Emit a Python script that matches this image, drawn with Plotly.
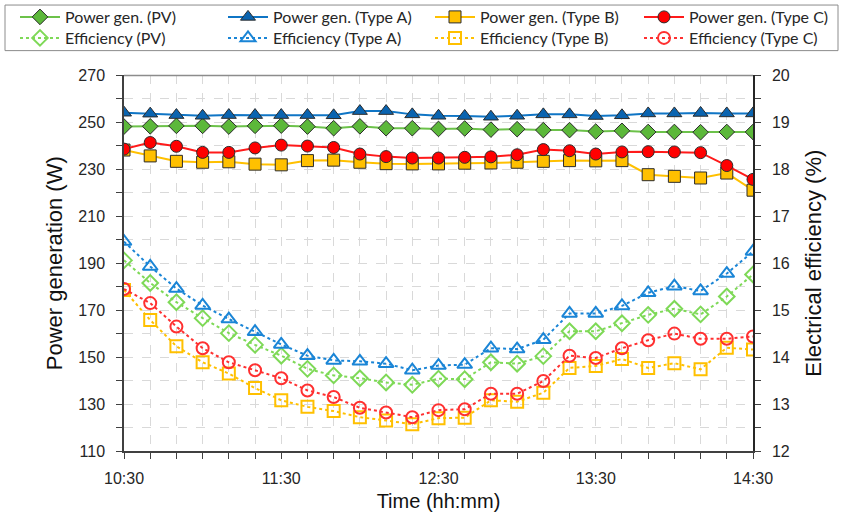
import plotly.graph_objects as go
import pandas as pd

times = ["10:30", "10:40", "10:50", "11:00", "11:10", "11:20", "11:30", "11:40", "11:50",
         "12:00", "12:10", "12:20", "12:30", "12:40", "12:50", "13:00", "13:10", "13:20",
         "13:30", "13:40", "13:50", "14:00", "14:10", "14:20", "14:30"]

power_pv = [248.2, 248.3, 248.5, 248.5, 248.2, 248.5, 248.6, 248.2, 247.5, 248.3, 247.5, 247.5, 247.2,
            247.4, 246.9, 247.1, 246.7, 246.7, 246.1, 246.4, 245.9, 245.9, 245.8, 245.9, 245.9]
power_a = [254.1, 253.7, 253.1, 252.8, 253.1, 253.1, 253.1, 253.1, 253.0, 254.8, 254.8, 253.4, 252.8,
           252.7, 252.4, 252.8, 253.4, 253.4, 252.7, 253.0, 253.8, 253.8, 254.0, 253.8, 253.8]
power_b = [238.2, 235.7, 233.4, 233.0, 233.2, 232.2, 231.9, 233.7, 233.9, 233.0, 232.4, 232.3, 232.3,
           232.6, 232.7, 233.0, 233.4, 233.7, 233.6, 233.7, 227.7, 227.0, 226.3, 228.4, 221.1]
power_c = [238.6, 241.4, 239.8, 237.2, 237.2, 239.1, 240.3, 239.9, 239.3, 236.5, 235.4, 234.8, 234.8,
           235.1, 235.3, 236.2, 238.4, 237.9, 236.5, 237.4, 237.5, 237.4, 237.1, 231.6, 225.7]

eff_pv = [16.06, 15.58, 15.17, 14.83, 14.51, 14.26, 14.03, 13.75, 13.61, 13.55, 13.46, 13.41, 13.54,
          13.53, 13.89, 13.86, 14.02, 14.55, 14.55, 14.72, 14.90, 15.03, 14.91, 15.29, 15.76]
eff_a = [16.46, 15.93, 15.46, 15.10, 14.81, 14.54, 14.27, 14.03, 13.93, 13.91, 13.86, 13.72, 13.82,
         13.84, 14.19, 14.17, 14.37, 14.93, 14.93, 15.09, 15.37, 15.51, 15.41, 15.78, 16.25]
eff_b = [15.43, 14.79, 14.23, 13.89, 13.65, 13.34, 13.08, 12.94, 12.85, 12.72, 12.65, 12.57, 12.70,
         12.71, 13.08, 13.05, 13.24, 13.77, 13.81, 13.96, 13.77, 13.87, 13.74, 14.20, 14.16]
eff_c = [15.45, 15.15, 14.65, 14.19, 13.89, 13.72, 13.55, 13.29, 13.15, 12.92, 12.82, 12.72, 12.87,
         12.89, 13.22, 13.22, 13.49, 14.03, 13.98, 14.19, 14.36, 14.50, 14.39, 14.39, 14.44]

x = pd.to_datetime(["2024-01-01 " + t for t in times])

series = [
    ("PV", power_pv, eff_pv, "#6cc24a", "#5cb83a", "#7ed957", "diamond"),
    ("Type A", power_a, eff_a, "#0f75c5", "#0a64b0", "#1a85d6", "triangle-up"),
    ("Type B", power_b, eff_b, "#ffc000", "#ffc000", "#ffc000", "square"),
    ("Type C", power_c, eff_c, "#ff1a1a", "#ff0000", "#ff3030", "circle"),
]

W, H = 843, 521
ML, MR, MT, MB = 124, 90, 74, 68
PW, PH = W - ML - MR, H - MT - MB


def px_to_paper_x(px):
    return (px - ML) / PW


def px_to_paper_y(py):
    return (H - MB - py) / PH


col_x = [15, 223, 430, 639]      # legend column left edges (px)
row_y = [17, 38]                 # legend row centres (px)

legend_font = dict(family="Lato", size=16, color="#262626")
legends = {}
fig = go.Figure()
for i, (name, pw, ef, lcol, mcol, ecol, sym) in enumerate(series):
    msize = 13 if sym == "triangle-up" else 12
    lid1 = "legend" if i == 0 else f"legend{i + 1}"
    lid2 = f"legend{i + 5}"
    fig.add_trace(go.Scatter(
        x=x, y=pw, name=f"Power gen. ({name})", mode="lines+markers",
        line=dict(color=lcol, width=2),
        marker=dict(symbol=sym, size=msize, color=mcol, line=dict(color="#2b2b2b", width=1)),
        yaxis="y", legend=lid1))
    fig.add_trace(go.Scatter(
        x=x, y=ef, name=f"Efficiency ({name})", mode="lines+markers",
        line=dict(color=ecol, width=2, dash="dot"),
        marker=dict(symbol=sym + "-open", size=msize, color=ecol, line=dict(width=2)),
        yaxis="y2", legend=lid2))
    for lid, ry in ((lid1, row_y[0]), (lid2, row_y[1])):
        legends[lid] = dict(xref="paper", yref="container", orientation="h",
                            x=px_to_paper_x(col_x[i]), y=1 - ry / H,
                            xanchor="left", yanchor="middle",
                            font=legend_font, bgcolor="rgba(0,0,0,0)", borderwidth=0,
                            itemwidth=40)

tickfont = dict(family="Liberation Sans, Arial", size=16, color="#262626")
grid = dict(showgrid=True, gridcolor="#d9d9d9", griddash="dash", gridwidth=1)
title_font = dict(family="Liberation Sans, Arial", size=22, color="#111")

fig.update_layout(
    width=W, height=H,
    margin=dict(l=ML, r=MR, t=MT, b=MB),
    paper_bgcolor="white", plot_bgcolor="white",
    showlegend=True,
    **legends,
    xaxis=dict(
        type="date", range=[x[0], x[-1]],
        tick0=x[0], dtick=3600000, tickformat="%H:%M",
        ticks="outside", ticklen=6, tickcolor="#404040",
        showline=True, linecolor="#404040", linewidth=1.5,
        tickfont=tickfont, ticklabelstandoff=6,
        **grid,
        minor=dict(dtick=600000, tick0=x[0], ticks="outside", ticklen=6, tickcolor="#404040",
                   showgrid=True, gridcolor="#d9d9d9", griddash="dash"),
        title=dict(text="Time (hh:mm)", font=dict(family="Liberation Sans, Arial", size=20, color="#111"),
                   standoff=8),
    ),
    yaxis=dict(
        range=[110, 270], tick0=110, dtick=20,
        ticks="outside", ticklen=6, tickcolor="#404040",
        showline=True, linecolor="#404040", linewidth=1.5,
        tickfont=tickfont, ticklabelstandoff=8,
        **grid,
        minor=dict(dtick=10, tick0=110, ticks="outside", ticklen=6, tickcolor="#404040",
                   showgrid=True, gridcolor="#d9d9d9", griddash="dash"),
        title=dict(text="Power generation (W)", font=title_font, standoff=10),
        zeroline=False,
    ),
    yaxis2=dict(
        overlaying="y", side="right", range=[12, 20], dtick=1, tick0=12,
        ticks="outside", ticklen=6, tickcolor="#404040",
        showline=True, linecolor="#262626", linewidth=1.5,
        tickfont=tickfont, ticklabelstandoff=8, showgrid=False,
        minor=dict(dtick=0.5, tick0=12, ticks="outside", ticklen=6, tickcolor="#404040"),
        title=dict(text="Electrical efficiency (%)", font=title_font, standoff=17),
        zeroline=False,
    ),
    shapes=[
        dict(type="line", xref="paper", yref="paper", x0=0, x1=1, y0=1, y1=1,
             line=dict(color="#8c8c8c", width=1.5), layer="above"),
        # legend frame
        dict(type="rect", xref="paper", yref="paper",
             x0=px_to_paper_x(5), x1=px_to_paper_x(838),
             y0=px_to_paper_y(49), y1=px_to_paper_y(3),
             line=dict(color="#8c8c8c", width=1), fillcolor="rgba(0,0,0,0)", layer="above"),
    ],
)

fig.write_html("out.html")
